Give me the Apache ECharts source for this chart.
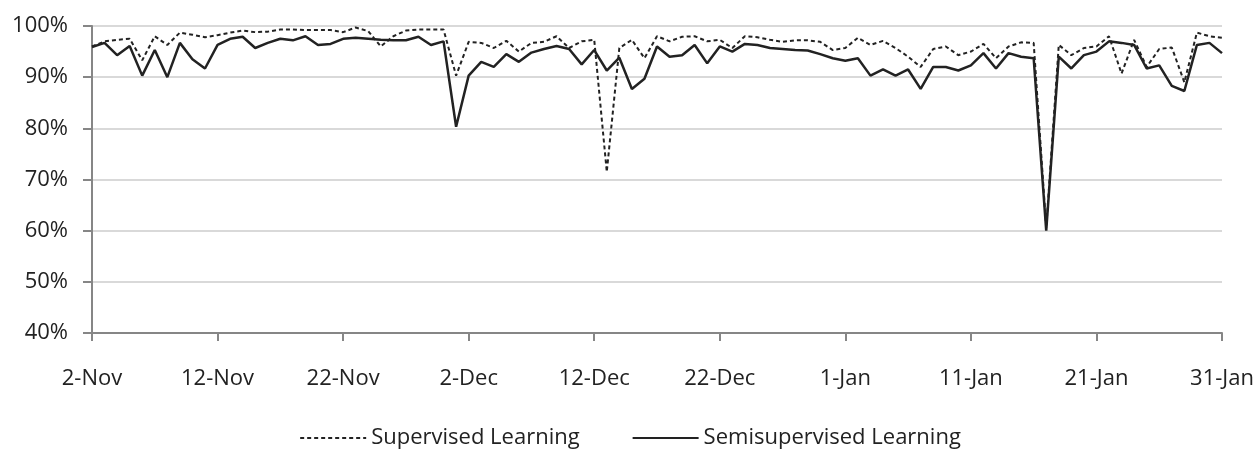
<!DOCTYPE html>
<html>
<head>
<meta charset="utf-8">
<script src="https://cdn.jsdelivr.net/npm/echarts@6/dist/echarts.min.js"></script>
<style>
html,body{margin:0;padding:0;background:#fff;}
#chart{width:1260px;height:456px;}
</style>
</head>
<body>
<div id="chart"></div>
<script>
// Dates: 2-Nov .. 31-Jan (91 daily points)
const months = [['Nov', 2, 30], ['Dec', 1, 31], ['Jan', 1, 31]];
const categories = [];
months.forEach(([m, s, e]) => { for (let d = s; d <= e; d++) categories.push(d + '-' + m); });

const yTicks = ['40%', '50%', '60%', '70%', '80%', '90%', '100%'];

const supervised = [
  96, 97, 97.3, 97.5, 93.3, 98, 96.3, 98.7, 98.3, 97.8,
  98.2, 98.7, 99.1, 98.8, 98.9, 99.3, 99.3, 99.2, 99.2, 99.2,
  98.8, 99.7, 99, 96, 98, 99.1, 99.3, 99.3, 99.3, 90.3,
  96.9, 96.7, 95.7, 97.1, 95, 96.7, 96.9, 98, 95.7, 97,
  97.3, 71.5, 95.7, 97.3, 93.7, 98, 97, 97.9, 98, 97,
  97.3, 95.7, 98, 97.8, 97.3, 96.9, 97.2, 97.2, 96.9, 95.3,
  95.7, 97.7, 96.3, 97.1, 95.7, 94, 92, 95.5, 96, 94.3,
  95, 96.5, 93.7, 96, 96.8, 96.7, 60.5, 96.3, 94.3, 95.7,
  96, 98, 90.7, 97.3, 92, 95.5, 95.8, 89, 98.7, 98,
  97.7
];
const semisupervised = [
  95.9, 96.7, 94.3, 96.1, 90.3, 95.3, 90, 96.7, 93.5, 91.7,
  96.3, 97.5, 97.9, 95.7, 96.7, 97.5, 97.2, 98, 96.3, 96.5,
  97.5, 97.7, 97.5, 97.3, 97.2, 97.2, 97.9, 96.3, 97, 80.3,
  90.3, 93, 92, 94.5, 93, 94.8, 95.5, 96.1, 95.5, 92.5,
  95.3, 91.3, 93.8, 87.7, 89.7, 96, 94, 94.3, 96.3, 92.7,
  96, 95, 96.5, 96.3, 95.7, 95.5, 95.3, 95.2, 94.5, 93.7,
  93.2, 93.7, 90.3, 91.5, 90.3, 91.5, 87.7, 92, 92, 91.3,
  92.3, 94.7, 91.7, 94.7, 94, 93.7, 60, 94, 91.7, 94.3,
  95, 97, 96.7, 96.3, 91.7, 92.3, 88.3, 87.3, 96.3, 96.7,
  94.7
];

const FONT = '"Open Sans", sans-serif';
const FS = 22;
const chart = echarts.init(document.getElementById('chart'), null, {renderer: 'canvas'});
chart.setOption({
  animation: false,
  backgroundColor: '#ffffff',
  grid: {left: 92, right: 38, top: 26, bottom: 123, containLabel: false},
  legend: {
    bottom: 2,
    left: 'center',
    itemWidth: 66,
    itemHeight: 12,
    itemGap: 52,
    itemStyle: {opacity: 0},
    textStyle: {fontFamily: FONT, fontSize: FS, color: '#222'},
    data: ['Supervised Learning', 'Semisupervised Learning']
  },
  xAxis: {
    type: 'category',
    data: categories,
    boundaryGap: false,
    axisLine: {lineStyle: {color: '#868686', width: 2}},
    axisTick: {show: true, interval: 9, length: 8, lineStyle: {color: '#868686', width: 2}},
    axisLabel: {interval: 9, margin: 35, fontFamily: FONT, fontSize: FS, color: '#222'},
    splitLine: {show: false}
  },
  yAxis: {
    type: 'value',
    min: 40, max: 100, interval: 10,
    axisLine: {show: true, lineStyle: {color: '#868686', width: 2}},
    axisTick: {show: true, length: 9, lineStyle: {color: '#868686', width: 2}},
    axisLabel: {margin: 24, fontFamily: FONT, fontSize: FS, color: '#222',
      formatter: v => yTicks[Math.round((v - 40) / 10)]},
    splitLine: {lineStyle: {color: '#d9d9d9', width: 2}}
  },
  series: [
    {
      name: 'Supervised Learning', type: 'line', data: supervised,
      showSymbol: false, symbol: 'none', symbolSize: 0,
      lineStyle: {color: '#222', width: 2, type: [4, 3]},
      itemStyle: {color: '#222'}
    },
    {
      name: 'Semisupervised Learning', type: 'line', data: semisupervised,
      showSymbol: false, symbol: 'none', symbolSize: 0,
      lineStyle: {color: '#222', width: 2.5, type: 'solid'},
      itemStyle: {color: '#222'}
    }
  ]
});
</script>
</body>
</html>
